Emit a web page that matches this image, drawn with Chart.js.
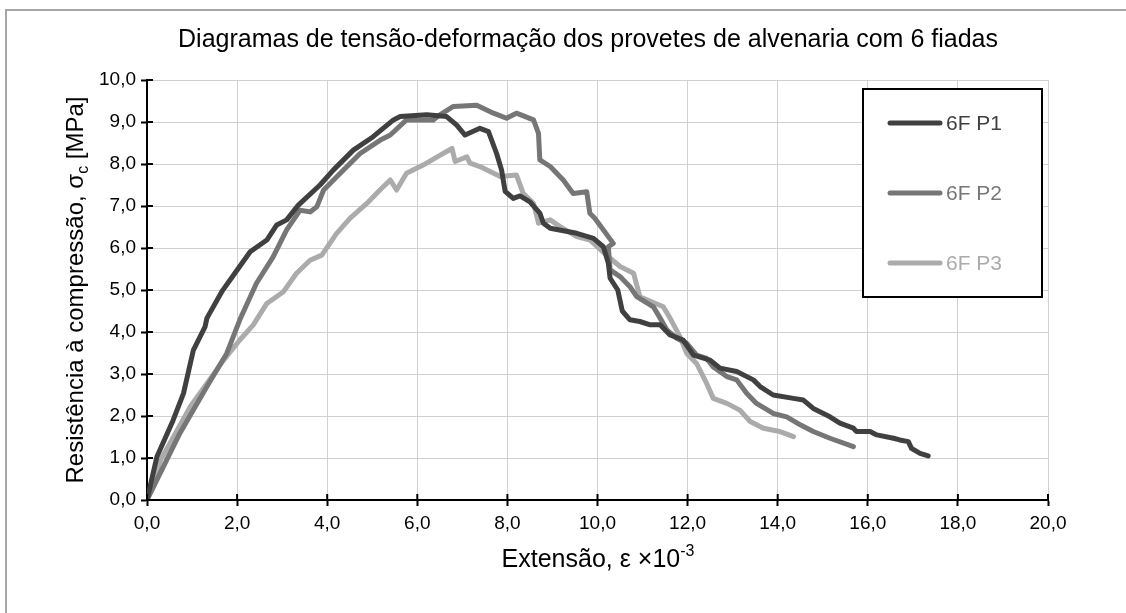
<!DOCTYPE html>
<html>
<head>
<meta charset="utf-8">
<script src="https://cdn.jsdelivr.net/npm/chart.js@4.4.1/dist/chart.umd.min.js"></script>
<style>
  html, body { margin: 0; padding: 0; background: #fff; }
  #wrap { position: relative; width: 1126px; height: 613px; overflow: hidden; }
  #frame { position: absolute; left: 5px; top: 9px; width: 2000px; height: 2000px;
           border-top: 2px solid #a6a6a6; border-left: 2px solid #a6a6a6; }
  canvas { position: absolute; left: 0; top: 0; }
</style>
</head>
<body>
<div id="wrap">
  <div id="frame"></div>
  <canvas id="chart" width="1126" height="613"></canvas>
</div>
<script>
// ── Series: strain (×10^-3) / stress (MPa) ──
const p1Strain = [0, 0.22, 0.58, 0.81, 1.03, 1.29, 1.33, 1.66, 1.95, 2.29, 2.66, 2.88, 3.10, 3.36, 3.84, 4.14, 4.58, 5.02, 5.47, 5.62, 6.21, 6.65, 6.87, 7.06, 7.39, 7.58, 7.76, 7.87, 7.95, 8.13, 8.28, 8.50, 8.72, 8.80, 8.95, 9.54, 9.91, 10.13, 10.24, 10.28, 10.45, 10.55, 10.72, 10.94, 11.17, 11.39, 11.61, 11.90, 12.13, 12.50, 12.72, 13.09, 13.46, 13.61, 13.90, 14.35, 14.57, 14.79, 15.16, 15.38, 15.68, 15.75, 16.05, 16.20, 16.57, 16.71, 16.90, 16.97, 17.16, 17.34];
const p1Stress = [0, 1.03, 1.90, 2.54, 3.57, 4.13, 4.33, 4.96, 5.40, 5.91, 6.19, 6.55, 6.67, 7.02, 7.50, 7.86, 8.33, 8.65, 9.05, 9.13, 9.17, 9.13, 8.93, 8.69, 8.85, 8.77, 8.25, 7.86, 7.35, 7.18, 7.24, 7.10, 6.83, 6.59, 6.47, 6.35, 6.23, 6.03, 5.64, 5.28, 5.00, 4.50, 4.29, 4.25, 4.17, 4.17, 3.93, 3.81, 3.45, 3.33, 3.14, 3.06, 2.86, 2.70, 2.50, 2.42, 2.38, 2.18, 1.98, 1.83, 1.71, 1.63, 1.63, 1.55, 1.47, 1.43, 1.39, 1.23, 1.11, 1.05];

const p2Strain = [0, 0.73, 1.33, 1.77, 2.06, 2.43, 2.80, 3.10, 3.40, 3.62, 3.77, 3.92, 4.29, 4.73, 5.18, 5.40, 5.76, 5.99, 6.36, 6.50, 6.80, 7.32, 7.69, 7.98, 8.20, 8.58, 8.69, 8.72, 8.95, 9.24, 9.46, 9.76, 9.83, 9.94, 10.35, 10.24, 10.28, 10.50, 10.72, 10.87, 11.24, 11.39, 11.54, 11.76, 11.98, 12.20, 12.42, 12.57, 12.87, 13.09, 13.31, 13.53, 13.90, 14.20, 14.50, 14.79, 15.16, 15.68];
const p2Stress = [0, 1.59, 2.70, 3.49, 4.29, 5.16, 5.79, 6.43, 6.90, 6.86, 6.98, 7.38, 7.78, 8.25, 8.57, 8.69, 9.05, 9.05, 9.05, 9.17, 9.37, 9.40, 9.21, 9.09, 9.21, 9.05, 8.73, 8.10, 7.94, 7.62, 7.30, 7.34, 6.83, 6.71, 6.11, 6.03, 5.48, 5.32, 5.08, 4.84, 4.60, 4.33, 4.05, 3.85, 3.73, 3.45, 3.37, 3.17, 2.94, 2.86, 2.54, 2.30, 2.06, 1.98, 1.79, 1.63, 1.47, 1.27];

const p3Strain = [0, 0.30, 0.96, 1.70, 2.06, 2.36, 2.66, 3.03, 3.32, 3.62, 3.88, 4.21, 4.51, 4.88, 5.17, 5.40, 5.54, 5.76, 6.14, 6.51, 6.77, 6.84, 7.10, 7.17, 7.39, 7.84, 8.20, 8.35, 8.58, 8.69, 8.95, 9.17, 9.54, 9.83, 10.20, 10.50, 10.80, 10.94, 11.46, 11.61, 11.83, 11.98, 12.20, 12.42, 12.57, 12.87, 13.16, 13.39, 13.68, 14.05, 14.35];
const p3Stress = [0, 0.95, 2.22, 3.33, 3.81, 4.17, 4.68, 4.96, 5.40, 5.71, 5.83, 6.35, 6.71, 7.06, 7.38, 7.62, 7.38, 7.78, 7.98, 8.21, 8.37, 8.06, 8.17, 8.02, 7.94, 7.70, 7.74, 7.30, 7.06, 6.59, 6.67, 6.51, 6.27, 6.19, 5.83, 5.56, 5.40, 4.84, 4.60, 4.33, 3.89, 3.49, 3.25, 2.78, 2.42, 2.30, 2.14, 1.87, 1.71, 1.63, 1.51];

const seriesNames = ['6F P1', '6F P2', '6F P3'];
const seriesColors = ['#404040', '#767676', '#ababab'];
const xTickValues = [0, 2, 4, 6, 8, 10, 12, 14, 16, 18, 20];
const yTickValues = [0, 1, 2, 3, 4, 5, 6, 7, 8, 9, 10];

const chartTitle = 'Diagramas de tensão-deformação dos provetes de alvenaria com 6 fiadas';
const FONT = '"Liberation Sans", Arial, Helvetica, sans-serif';

const strains = [p1Strain, p2Strain, p3Strain];
const stresses = [p1Stress, p2Stress, p3Stress];
const toPoints = (xs, ys) => xs.map((x, i) => ({ x, y: ys[i] }));
const fmt = v => Number(v).toFixed(1).replace('.', ',');

// draws a run of text pieces (with sub/superscripts) centred on cx
function drawRich(ctx, parts, cx, cy, angle) {
  ctx.save();
  ctx.translate(cx, cy);
  if (angle) ctx.rotate(angle);
  let total = 0;
  parts.forEach(p => { ctx.font = p.size + 'px ' + FONT; p.w = ctx.measureText(p.t).width; total += p.w; });
  let x = -total / 2;
  ctx.textAlign = 'left';
  ctx.textBaseline = 'alphabetic';
  ctx.fillStyle = '#000';
  parts.forEach(p => { ctx.font = p.size + 'px ' + FONT; ctx.fillText(p.t, x, p.dy || 0); x += p.w; });
  ctx.restore();
}

const decor = {
  id: 'decor',
  afterDraw(chart) {
    const { ctx, chartArea: a, scales: { x, y } } = chart;
    ctx.save();
    // inner half of the cross tick marks
    ctx.strokeStyle = '#000'; ctx.lineWidth = 2;
    ctx.beginPath();
    xTickValues.forEach(v => { const px = x.getPixelForValue(v); ctx.moveTo(px, a.bottom); ctx.lineTo(px, a.bottom - 6); });
    yTickValues.forEach(v => { const py = y.getPixelForValue(v); ctx.moveTo(a.left, py); ctx.lineTo(a.left + 6, py); });
    ctx.stroke();

    // chart title
    ctx.fillStyle = '#000';
    ctx.font = '25px ' + FONT;
    ctx.textAlign = 'center';
    ctx.textBaseline = 'middle';
    ctx.fillText(chartTitle, 588, 40);

    // axis titles
    drawRich(ctx, [
      { t: 'Extensão, ε ×10', size: 25 },
      { t: '-3', size: 16, dy: -11 }
    ], 598, 567, 0);
    drawRich(ctx, [
      { t: 'Resistência à compressão, σ', size: 24 },
      { t: 'c', size: 16, dy: 5 },
      { t: ' [MPa]', size: 24 }
    ], 83, (a.top + a.bottom) / 2, -Math.PI / 2);

    // legend
    const bx = 863, by = 89, bw = 179, bh = 208;
    ctx.fillStyle = '#fff';
    ctx.fillRect(bx, by, bw, bh);
    ctx.strokeStyle = '#000'; ctx.lineWidth = 2;
    ctx.strokeRect(bx, by, bw, bh);
    ctx.lineCap = 'round';
    ctx.textAlign = 'left'; ctx.textBaseline = 'middle';
    ctx.font = '21px ' + FONT;
    seriesNames.forEach((name, i) => {
      const ly = 123 + i * 70;
      ctx.strokeStyle = seriesColors[i]; ctx.lineWidth = 5;
      ctx.beginPath(); ctx.moveTo(890, ly); ctx.lineTo(940, ly); ctx.stroke();
      ctx.fillStyle = seriesColors[i];
      ctx.fillText(name, 946, ly + 1);
    });
    ctx.restore();
  }
};

const axisCommon = {
  type: 'linear',
  grid: { color: '#d0d0d0', lineWidth: 1, tickColor: '#000', tickLength: 6, tickWidth: 2 },
  border: { color: '#000', width: 2 },
  ticks: { color: '#000', font: { family: FONT, size: 19 }, callback: v => fmt(v), maxRotation: 0, autoSkip: false }
};

new Chart(document.getElementById('chart'), {
  type: 'line',
  data: {
    datasets: seriesNames.map((name, i) => ({
      label: name,
      data: toPoints(strains[i], stresses[i]),
      borderColor: seriesColors[i],
      backgroundColor: seriesColors[i],
      borderWidth: 5,
      pointRadius: 0,
      borderJoinStyle: 'round',
      borderCapStyle: 'round',
      tension: 0,
      fill: false
    }))
  },
  options: {
    responsive: false,
    animation: false,
    layout: { padding: { top: 80, right: 78, bottom: 0, left: 0 } },
    plugins: { legend: { display: false }, title: { display: false }, tooltip: { enabled: false } },
    scales: {
      x: {
        ...axisCommon, min: 0, max: 20,
        afterBuildTicks: s => { s.ticks = xTickValues.map(v => ({ value: v })); },
        afterFit: s => { s.height = 113; },
        ticks: { ...axisCommon.ticks, padding: 6 }
      },
      y: {
        ...axisCommon, min: 0, max: 10,
        afterBuildTicks: s => { s.ticks = yTickValues.map(v => ({ value: v })); },
        afterFit: s => { s.width = 147; },
        ticks: { ...axisCommon.ticks, padding: 5 }
      }
    }
  },
  plugins: [decor]
});
</script>
</body>
</html>
